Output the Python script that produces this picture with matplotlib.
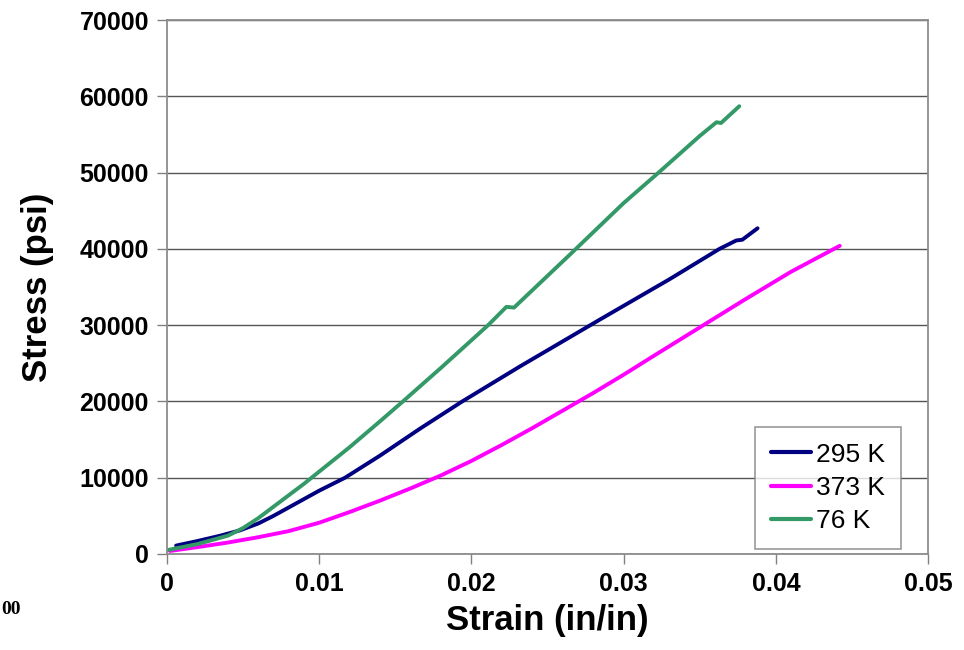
import matplotlib.pyplot as plt

# Datos (strain en in/in, stress en psi)
strain_295 = [0.0006, 0.0020, 0.0035, 0.0048, 0.0060, 0.0070, 0.0080, 0.0090, 0.0100, 0.0117,
              0.0140, 0.0166, 0.0194, 0.0232, 0.0285, 0.0330, 0.0363, 0.0374, 0.0378, 0.0388]
stress_295 = [1100, 1700, 2400, 3100, 4000, 5000, 6100, 7200, 8300, 10000,
              12900, 16400, 20000, 24600, 30800, 36000, 40000, 41100, 41200, 42700]

strain_373 = [0.0002, 0.0020, 0.0040, 0.0060, 0.0080, 0.0100, 0.0120, 0.0140, 0.0160, 0.0180,
              0.0200, 0.0220, 0.0240, 0.0260, 0.0280, 0.0300, 0.0320, 0.0350, 0.0380, 0.0410, 0.0442]
stress_373 = [400, 900, 1500, 2200, 3000, 4100, 5500, 7000, 8600, 10300,
              12200, 14300, 16500, 18800, 21100, 23500, 26000, 29700, 33400, 37000, 40400]

strain_76 = [0.0000, 0.0020, 0.0040, 0.0050, 0.0060, 0.0070, 0.0080, 0.0090, 0.0100, 0.0120,
             0.0140, 0.0155, 0.0180, 0.0211, 0.0223, 0.0228, 0.0265, 0.0300, 0.0323, 0.0350,
             0.0361, 0.0364, 0.0376]
stress_76 = [500, 1300, 2400, 3400, 4700, 6200, 7700, 9200, 10800, 14000,
             17400, 20000, 24400, 30000, 32400, 32300, 39300, 46000, 50000, 54800,
             56600, 56500, 58700]

x_ticks = [0, 0.01, 0.02, 0.03, 0.04, 0.05]
y_ticks = [0, 10000, 20000, 30000, 40000, 50000, 60000, 70000]

plt.rcParams['font.family'] = ['Liberation Sans', 'DejaVu Sans']

fig = plt.figure(figsize=(9.64, 6.5), dpi=100)
ax = fig.add_axes([0.1732, 0.1477, 0.7895, 0.8215])

ax.plot(strain_295, stress_295, color='#000080', lw=2.8, label='295 K', solid_capstyle='round')
ax.plot(strain_373, stress_373, color='#ff00ff', lw=2.8, label='373 K', solid_capstyle='round')
ax.plot(strain_76, stress_76, color='#339966', lw=2.8, label='76 K', solid_capstyle='round')

ax.set_xlim(0, 0.05)
ax.set_ylim(0, 70000)
ax.set_xticks(x_ticks)
ax.set_xticklabels(['0', '0.01', '0.02', '0.03', '0.04', '0.05'])
ax.set_yticks(y_ticks)
ax.set_yticklabels([str(v) for v in y_ticks])

# Rejilla horizontal y bordes grises
ax.yaxis.grid(True, color='#555555', lw=1.0)
ax.set_axisbelow(True)
for s in ax.spines.values():
    s.set_color('#8c8c8c')
    s.set_linewidth(1.3)

ax.tick_params(axis='both', direction='out', length=7, width=1.0, color='#808080',
               labelsize=18, pad=6)
for lab in ax.get_xticklabels() + ax.get_yticklabels():
    lab.set_fontweight('bold')

ax.set_xlabel('Strain (in/in)', fontsize=25, fontweight='bold', labelpad=6)
ax.set_ylabel('Stress (psi)', fontsize=25, fontweight='bold', labelpad=18)

leg = ax.legend(loc='lower right', bbox_to_anchor=(0.9645, 0.0094), fontsize=19, frameon=True,
                fancybox=False, edgecolor='#808080', handlelength=1.5, handletextpad=0.2,
                borderpad=0.6, labelspacing=0.35, borderaxespad=0.0)
leg.get_frame().set_linewidth(1.2)
for line in leg.get_lines():
    line.set_linewidth(3)

# Resto de texto recortado en la esquina inferior izquierda
fig.text(0.001, 0.063, '00', fontsize=14, fontweight='bold', family='Liberation Serif',
         ha='left', va='center')

plt.savefig('out.png', dpi=100)
